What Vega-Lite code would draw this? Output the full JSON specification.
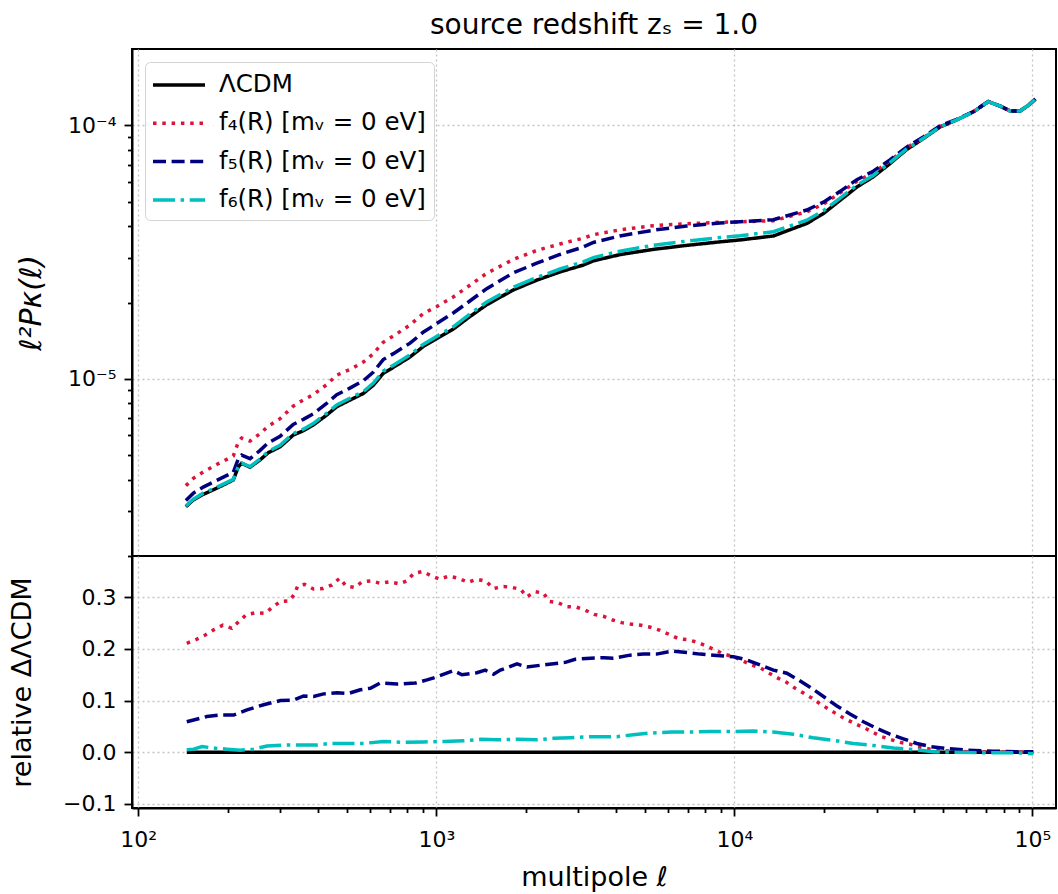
{
  "$schema": "https://vega.github.io/schema/vega-lite/v6.json",
  "background": "white",
  "padding": {"left": 7, "top": 11, "right": 2, "bottom": 2},
  "spacing": 0,
  "bounds": "flush",
  "config": {
    "font": "DejaVu Sans",
    "view": {"stroke": "black", "strokeWidth": 2},
    "axis": {"labelFontSize": 22, "titleFontSize": 27, "titleFontWeight": "normal", "labelColor": "black", "titleColor": "black", "tickColor": "black", "domainColor": "black", "domainWidth": 2, "tickWidth": 1.8, "gridColor": "#c4c4c4", "gridDash": [2, 3], "gridWidth": 1.3, "labelOverlap": false, "labelFlush": false, "labelFont": "DejaVu Sans", "titleFont": "DejaVu Sans"},
    "title": {"fontSize": 28, "fontWeight": "normal", "color": "black", "offset": 9, "anchor": "middle", "font": "DejaVu Sans"},
    "legend": {"labelFont": "DejaVu Sans"}
  },
  "datasets": {
    "top": [
      {"l": 144.5, "lcdm": 3.13e-6, "f4": 3.79e-6, "f5": 3.31e-6, "f6": 3.15e-6},
      {"l": 153.1, "lcdm": 3.33e-6, "f4": 4.05e-6, "f5": 3.54e-6, "f6": 3.35e-6},
      {"l": 165.2, "lcdm": 3.50e-6, "f4": 4.29e-6, "f5": 3.74e-6, "f6": 3.54e-6},
      {"l": 183.2, "lcdm": 3.70e-6, "f4": 4.59e-6, "f5": 3.97e-6, "f6": 3.73e-6},
      {"l": 208.4, "lcdm": 3.99e-6, "f4": 4.96e-6, "f5": 4.28e-6, "f6": 4.01e-6},
      {"l": 216.8, "lcdm": 4.50e-6, "f4": 5.64e-6, "f5": 4.84e-6, "f6": 4.52e-6},
      {"l": 222.3, "lcdm": 4.64e-6, "f4": 5.84e-6, "f5": 5.00e-6, "f6": 4.66e-6},
      {"l": 237.1, "lcdm": 4.48e-6, "f4": 5.68e-6, "f5": 4.84e-6, "f6": 4.50e-6},
      {"l": 255.9, "lcdm": 4.78e-6, "f4": 6.07e-6, "f5": 5.21e-6, "f6": 4.82e-6},
      {"l": 272.9, "lcdm": 5.11e-6, "f4": 6.50e-6, "f5": 5.59e-6, "f6": 5.17e-6},
      {"l": 299.2, "lcdm": 5.39e-6, "f4": 6.96e-6, "f5": 5.93e-6, "f6": 5.47e-6},
      {"l": 331.1, "lcdm": 6.00e-6, "f4": 7.80e-6, "f5": 6.61e-6, "f6": 6.08e-6},
      {"l": 358.1, "lcdm": 6.24e-6, "f4": 8.26e-6, "f5": 6.92e-6, "f6": 6.33e-6},
      {"l": 386.4, "lcdm": 6.57e-6, "f4": 8.65e-6, "f5": 7.28e-6, "f6": 6.66e-6},
      {"l": 428.5, "lcdm": 7.19e-6, "f4": 9.48e-6, "f5": 8.00e-6, "f6": 7.31e-6},
      {"l": 463.4, "lcdm": 7.76e-6, "f4": 10.34e-6, "f5": 8.65e-6, "f6": 7.89e-6},
      {"l": 512.9, "lcdm": 8.24e-6, "f4": 10.88e-6, "f5": 9.19e-6, "f6": 8.38e-6},
      {"l": 568.9, "lcdm": 8.75e-6, "f4": 11.64e-6, "f5": 9.82e-6, "f6": 8.90e-6},
      {"l": 615.2, "lcdm": 9.44e-6, "f4": 12.57e-6, "f5": 10.64e-6, "f6": 9.62e-6},
      {"l": 663.7, "lcdm": 10.5e-6, "f4": 13.94e-6, "f5": 11.91e-6, "f6": 10.72e-6},
      {"l": 717.8, "lcdm": 11.1e-6, "f4": 14.75e-6, "f5": 12.57e-6, "f6": 11.32e-6},
      {"l": 816.6, "lcdm": 12.2e-6, "f4": 16.31e-6, "f5": 13.82e-6, "f6": 12.43e-6},
      {"l": 903.6, "lcdm": 13.4e-6, "f4": 18.08e-6, "f5": 15.26e-6, "f6": 13.67e-6},
      {"l": 1002, "lcdm": 14.4e-6, "f4": 19.25e-6, "f5": 16.50e-6, "f6": 14.70e-6},
      {"l": 1140, "lcdm": 15.7e-6, "f4": 21.02e-6, "f5": 18.18e-6, "f6": 16.03e-6},
      {"l": 1279, "lcdm": 17.4e-6, "f4": 23.13e-6, "f5": 20.05e-6, "f6": 17.80e-6},
      {"l": 1476, "lcdm": 19.6e-6, "f4": 26.07e-6, "f5": 22.68e-6, "f6": 20.09e-6},
      {"l": 1811, "lcdm": 22.4e-6, "f4": 29.55e-6, "f5": 26.16e-6, "f6": 22.96e-6},
      {"l": 2173, "lcdm": 24.5e-6, "f4": 32.10e-6, "f5": 28.59e-6, "f6": 25.09e-6},
      {"l": 2600, "lcdm": 26.4e-6, "f4": 34.03e-6, "f5": 30.94e-6, "f6": 27.11e-6},
      {"l": 3112, "lcdm": 28.1e-6, "f4": 35.86e-6, "f5": 33.10e-6, "f6": 28.91e-6},
      {"l": 3365, "lcdm": 29.2e-6, "f4": 37.03e-6, "f5": 34.51e-6, "f6": 30.08e-6},
      {"l": 4130, "lcdm": 30.9e-6, "f4": 38.69e-6, "f5": 36.62e-6, "f6": 31.86e-6},
      {"l": 5346, "lcdm": 32.4e-6, "f4": 40.18e-6, "f5": 38.56e-6, "f6": 33.63e-6},
      {"l": 6918, "lcdm": 33.6e-6, "f4": 40.92e-6, "f5": 40.08e-6, "f6": 34.91e-6},
      {"l": 8954, "lcdm": 34.7e-6, "f4": 41.43e-6, "f5": 41.19e-6, "f6": 36.09e-6},
      {"l": 10447, "lcdm": 35.3e-6, "f4": 41.62e-6, "f5": 41.69e-6, "f6": 36.71e-6},
      {"l": 13521, "lcdm": 36.6e-6, "f4": 42.05e-6, "f5": 42.42e-6, "f6": 38.03e-6},
      {"l": 17498, "lcdm": 41.0e-6, "f4": 45.55e-6, "f5": 46.33e-6, "f6": 42.23e-6},
      {"l": 19907, "lcdm": 44.9e-6, "f4": 48.94e-6, "f5": 49.75e-6, "f6": 46.02e-6},
      {"l": 22646, "lcdm": 50.6e-6, "f4": 54.14e-6, "f5": 54.90e-6, "f6": 51.66e-6},
      {"l": 25763, "lcdm": 57.1e-6, "f4": 60.18e-6, "f5": 61.04e-6, "f6": 58.01e-6},
      {"l": 29242, "lcdm": 62.6e-6, "f4": 64.98e-6, "f5": 65.86e-6, "f6": 63.41e-6},
      {"l": 33266, "lcdm": 70.6e-6, "f4": 72.37e-6, "f5": 73.07e-6, "f6": 71.24e-6},
      {"l": 37844, "lcdm": 80.2e-6, "f4": 81.56e-6, "f5": 82.04e-6, "f6": 80.68e-6},
      {"l": 43053, "lcdm": 88.6e-6, "f4": 89.40e-6, "f5": 89.93e-6, "f6": 88.87e-6},
      {"l": 48978, "lcdm": 98.5e-6, "f4": 98.89e-6, "f5": 99.49e-6, "f6": 98.60e-6},
      {"l": 55719, "lcdm": 105.0e-6, "f4": 105.2e-6, "f5": 105.6e-6, "f6": 105.0e-6},
      {"l": 63387, "lcdm": 113.0e-6, "f4": 113.1e-6, "f5": 113.3e-6, "f6": 113.0e-6},
      {"l": 71121, "lcdm": 124.0e-6, "f4": 124.1e-6, "f5": 124.2e-6, "f6": 124.0e-6},
      {"l": 77983, "lcdm": 119.0e-6, "f4": 119.0e-6, "f5": 119.1e-6, "f6": 119.0e-6},
      {"l": 84140, "lcdm": 114.0e-6, "f4": 114.0e-6, "f5": 114.0e-6, "f6": 114.0e-6},
      {"l": 90991, "lcdm": 114.0e-6, "f4": 114.0e-6, "f5": 114.0e-6, "f6": 114.0e-6},
      {"l": 97051, "lcdm": 120.0e-6, "f4": 120.0e-6, "f5": 120.0e-6, "f6": 120.0e-6},
      {"l": 102329, "lcdm": 127.0e-6, "f4": 127.0e-6, "f5": 127.0e-6, "f6": 127.0e-6}
    ],
    "rel": [
      {"s": "ΛCDM", "l": 145.5, "d": 0},
      {"s": "ΛCDM", "l": 100693, "d": 0},
      {"s": "f4", "l": 145.5, "d": 0.211},
      {"s": "f4", "l": 157.4, "d": 0.219},
      {"s": "f4", "l": 167.9, "d": 0.227},
      {"s": "f4", "l": 179.1, "d": 0.237},
      {"s": "f4", "l": 192.3, "d": 0.246},
      {"s": "f4", "l": 206.1, "d": 0.240},
      {"s": "f4", "l": 217.3, "d": 0.253},
      {"s": "f4", "l": 230.1, "d": 0.266},
      {"s": "f4", "l": 247.2, "d": 0.270},
      {"s": "f4", "l": 266.7, "d": 0.269},
      {"s": "f4", "l": 281.2, "d": 0.280},
      {"s": "f4", "l": 299.9, "d": 0.292},
      {"s": "f4", "l": 321.4, "d": 0.293},
      {"s": "f4", "l": 333.4, "d": 0.305},
      {"s": "f4", "l": 342.8, "d": 0.322},
      {"s": "f4", "l": 361.4, "d": 0.325},
      {"s": "f4", "l": 387.3, "d": 0.316},
      {"s": "f4", "l": 416.9, "d": 0.317},
      {"s": "f4", "l": 446.7, "d": 0.324},
      {"s": "f4", "l": 474.2, "d": 0.337},
      {"s": "f4", "l": 497.7, "d": 0.322},
      {"s": "f4", "l": 532.1, "d": 0.319},
      {"s": "f4", "l": 563.6, "d": 0.330},
      {"s": "f4", "l": 605.3, "d": 0.332},
      {"s": "f4", "l": 648.6, "d": 0.327},
      {"s": "f4", "l": 696.6, "d": 0.330},
      {"s": "f4", "l": 753.4, "d": 0.326},
      {"s": "f4", "l": 798.0, "d": 0.332},
      {"s": "f4", "l": 839.5, "d": 0.346},
      {"s": "f4", "l": 899.5, "d": 0.350},
      {"s": "f4", "l": 966.1, "d": 0.341},
      {"s": "f4", "l": 1026, "d": 0.335},
      {"s": "f4", "l": 1099, "d": 0.341},
      {"s": "f4", "l": 1189, "d": 0.337},
      {"s": "f4", "l": 1276, "d": 0.329},
      {"s": "f4", "l": 1368, "d": 0.335},
      {"s": "f4", "l": 1469, "d": 0.331},
      {"s": "f4", "l": 1556, "d": 0.317},
      {"s": "f4", "l": 1683, "d": 0.321},
      {"s": "f4", "l": 1803, "d": 0.319},
      {"s": "f4", "l": 1923, "d": 0.315},
      {"s": "f4", "l": 2014, "d": 0.301},
      {"s": "f4", "l": 2148, "d": 0.311},
      {"s": "f4", "l": 2291, "d": 0.308},
      {"s": "f4", "l": 2393, "d": 0.292},
      {"s": "f4", "l": 2553, "d": 0.290},
      {"s": "f4", "l": 2742, "d": 0.282},
      {"s": "f4", "l": 2951, "d": 0.281},
      {"s": "f4", "l": 3162, "d": 0.275},
      {"s": "f4", "l": 3388, "d": 0.267},
      {"s": "f4", "l": 3648, "d": 0.263},
      {"s": "f4", "l": 3908, "d": 0.256},
      {"s": "f4", "l": 4188, "d": 0.251},
      {"s": "f4", "l": 4519, "d": 0.248},
      {"s": "f4", "l": 4864, "d": 0.246},
      {"s": "f4", "l": 5236, "d": 0.242},
      {"s": "f4", "l": 5636, "d": 0.236},
      {"s": "f4", "l": 6053, "d": 0.228},
      {"s": "f4", "l": 6486, "d": 0.220},
      {"s": "f4", "l": 6950, "d": 0.218},
      {"s": "f4", "l": 7516, "d": 0.213},
      {"s": "f4", "l": 8035, "d": 0.206},
      {"s": "f4", "l": 8610, "d": 0.198},
      {"s": "f4", "l": 9226, "d": 0.190},
      {"s": "f4", "l": 9931, "d": 0.185},
      {"s": "f4", "l": 10666, "d": 0.177},
      {"s": "f4", "l": 11429, "d": 0.169},
      {"s": "f4", "l": 12246, "d": 0.163},
      {"s": "f4", "l": 13092, "d": 0.153},
      {"s": "f4", "l": 14060, "d": 0.143},
      {"s": "f4", "l": 15000, "d": 0.135},
      {"s": "f4", "l": 15996, "d": 0.124},
      {"s": "f4", "l": 17140, "d": 0.114},
      {"s": "f4", "l": 18197, "d": 0.105},
      {"s": "f4", "l": 19364, "d": 0.094},
      {"s": "f4", "l": 20654, "d": 0.084},
      {"s": "f4", "l": 22029, "d": 0.074},
      {"s": "f4", "l": 23496, "d": 0.065},
      {"s": "f4", "l": 25235, "d": 0.056},
      {"s": "f4", "l": 27102, "d": 0.048},
      {"s": "f4", "l": 28907, "d": 0.040},
      {"s": "f4", "l": 31189, "d": 0.030},
      {"s": "f4", "l": 33729, "d": 0.024},
      {"s": "f4", "l": 35975, "d": 0.019},
      {"s": "f4", "l": 38637, "d": 0.016},
      {"s": "f4", "l": 41976, "d": 0.010},
      {"s": "f4", "l": 45394, "d": 0.006},
      {"s": "f4", "l": 50234, "d": 0.003},
      {"s": "f4", "l": 60256, "d": 0.001},
      {"s": "f4", "l": 77983, "d": 0.0},
      {"s": "f4", "l": 100693, "d": 0.0},
      {"s": "f5", "l": 145.5, "d": 0.059},
      {"s": "f5", "l": 169.8, "d": 0.069},
      {"s": "f5", "l": 188.4, "d": 0.072},
      {"s": "f5", "l": 208.9, "d": 0.072},
      {"s": "f5", "l": 231.7, "d": 0.082},
      {"s": "f5", "l": 263.6, "d": 0.092},
      {"s": "f5", "l": 299.9, "d": 0.100},
      {"s": "f5", "l": 331.9, "d": 0.101},
      {"s": "f5", "l": 358.9, "d": 0.109},
      {"s": "f5", "l": 387.3, "d": 0.108},
      {"s": "f5", "l": 418.8, "d": 0.113},
      {"s": "f5", "l": 464.5, "d": 0.115},
      {"s": "f5", "l": 508.2, "d": 0.114},
      {"s": "f5", "l": 555.9, "d": 0.121},
      {"s": "f5", "l": 601.2, "d": 0.124},
      {"s": "f5", "l": 648.6, "d": 0.134},
      {"s": "f5", "l": 737.9, "d": 0.132},
      {"s": "f5", "l": 851.1, "d": 0.134},
      {"s": "f5", "l": 931.1, "d": 0.140},
      {"s": "f5", "l": 1005, "d": 0.146},
      {"s": "f5", "l": 1143, "d": 0.158},
      {"s": "f5", "l": 1219, "d": 0.150},
      {"s": "f5", "l": 1368, "d": 0.154},
      {"s": "f5", "l": 1459, "d": 0.159},
      {"s": "f5", "l": 1556, "d": 0.151},
      {"s": "f5", "l": 1641, "d": 0.159},
      {"s": "f5", "l": 1866, "d": 0.171},
      {"s": "f5", "l": 2014, "d": 0.165},
      {"s": "f5", "l": 2350, "d": 0.170},
      {"s": "f5", "l": 2710, "d": 0.174},
      {"s": "f5", "l": 2924, "d": 0.180},
      {"s": "f5", "l": 3289, "d": 0.182},
      {"s": "f5", "l": 3648, "d": 0.183},
      {"s": "f5", "l": 3926, "d": 0.182},
      {"s": "f5", "l": 4467, "d": 0.188},
      {"s": "f5", "l": 4955, "d": 0.190},
      {"s": "f5", "l": 5483, "d": 0.190},
      {"s": "f5", "l": 6166, "d": 0.196},
      {"s": "f5", "l": 6918, "d": 0.193},
      {"s": "f5", "l": 7674, "d": 0.190},
      {"s": "f5", "l": 8511, "d": 0.188},
      {"s": "f5", "l": 9311, "d": 0.186},
      {"s": "f5", "l": 9931, "d": 0.185},
      {"s": "f5", "l": 10990, "d": 0.179},
      {"s": "f5", "l": 12190, "d": 0.169},
      {"s": "f5", "l": 13521, "d": 0.159},
      {"s": "f5", "l": 15000, "d": 0.153},
      {"s": "f5", "l": 16181, "d": 0.142},
      {"s": "f5", "l": 17947, "d": 0.126},
      {"s": "f5", "l": 19907, "d": 0.108},
      {"s": "f5", "l": 22029, "d": 0.090},
      {"s": "f5", "l": 24434, "d": 0.074},
      {"s": "f5", "l": 27102, "d": 0.059},
      {"s": "f5", "l": 30061, "d": 0.046},
      {"s": "f5", "l": 33266, "d": 0.035},
      {"s": "f5", "l": 36898, "d": 0.026},
      {"s": "f5", "l": 40926, "d": 0.017},
      {"s": "f5", "l": 45394, "d": 0.011},
      {"s": "f5", "l": 51642, "d": 0.007},
      {"s": "f5", "l": 60256, "d": 0.004},
      {"s": "f5", "l": 73961, "d": 0.002},
      {"s": "f5", "l": 88512, "d": 0.001},
      {"s": "f5", "l": 100693, "d": 0.001},
      {"s": "f6", "l": 145.5, "d": 0.005},
      {"s": "f6", "l": 153.5, "d": 0.006},
      {"s": "f6", "l": 163.7, "d": 0.011},
      {"s": "f6", "l": 179.1, "d": 0.008},
      {"s": "f6", "l": 198.6, "d": 0.006},
      {"s": "f6", "l": 219.8, "d": 0.004},
      {"s": "f6", "l": 243.8, "d": 0.006},
      {"s": "f6", "l": 270.4, "d": 0.012},
      {"s": "f6", "l": 307.6, "d": 0.014},
      {"s": "f6", "l": 358.9, "d": 0.014},
      {"s": "f6", "l": 398.1, "d": 0.014},
      {"s": "f6", "l": 440.6, "d": 0.017},
      {"s": "f6", "l": 501.2, "d": 0.017},
      {"s": "f6", "l": 570.2, "d": 0.017},
      {"s": "f6", "l": 665.3, "d": 0.021},
      {"s": "f6", "l": 776.2, "d": 0.019},
      {"s": "f6", "l": 905.7, "d": 0.020},
      {"s": "f6", "l": 1059, "d": 0.021},
      {"s": "f6", "l": 1236, "d": 0.022},
      {"s": "f6", "l": 1406, "d": 0.025},
      {"s": "f6", "l": 1600, "d": 0.024},
      {"s": "f6", "l": 1866, "d": 0.025},
      {"s": "f6", "l": 2178, "d": 0.024},
      {"s": "f6", "l": 2477, "d": 0.027},
      {"s": "f6", "l": 2818, "d": 0.028},
      {"s": "f6", "l": 3289, "d": 0.030},
      {"s": "f6", "l": 4036, "d": 0.030},
      {"s": "f6", "l": 4581, "d": 0.034},
      {"s": "f6", "l": 5212, "d": 0.037},
      {"s": "f6", "l": 6166, "d": 0.039},
      {"s": "f6", "l": 7096, "d": 0.039},
      {"s": "f6", "l": 8279, "d": 0.040},
      {"s": "f6", "l": 9931, "d": 0.040},
      {"s": "f6", "l": 11588, "d": 0.041},
      {"s": "f6", "l": 13521, "d": 0.039},
      {"s": "f6", "l": 15776, "d": 0.035},
      {"s": "f6", "l": 18408, "d": 0.028},
      {"s": "f6", "l": 21478, "d": 0.023},
      {"s": "f6", "l": 25061, "d": 0.017},
      {"s": "f6", "l": 29242, "d": 0.013},
      {"s": "f6", "l": 34198, "d": 0.008},
      {"s": "f6", "l": 39902, "d": 0.005},
      {"s": "f6", "l": 46559, "d": 0.001},
      {"s": "f6", "l": 54325, "d": 0.0},
      {"s": "f6", "l": 68549, "d": -0.001},
      {"s": "f6", "l": 88512, "d": -0.001},
      {"s": "f6", "l": 100693, "d": -0.003}
    ]
  },
  "resolve": {"scale": {"x": "independent", "y": "independent", "color": "independent", "strokeDash": "independent"}},
  "vconcat": [
    {
      "width": 924,
      "height": 507,
      "title": {"text": "source redshift zₛ = 1.0"},
      "data": {"name": "top"},
      "transform": [{"fold": ["lcdm", "f4", "f5", "f6"], "as": ["k", "p"]}, {"lookup": "k", "from": {"data": {"values": [{"k": "lcdm", "s": "ΛCDM"}, {"k": "f4", "s": "f4"}, {"k": "f5", "s": "f5"}, {"k": "f6", "s": "f6"}]}, "key": "k", "fields": ["s"]}}],
      "mark": {"type": "line", "strokeWidth": 3.5, "clip": true},
      "encoding": {
        "x": {"field": "l", "type": "quantitative", "scale": {"type": "log", "domain": [95.3, 120000], "nice": false},
          "axis": {"values": [100, 1000, 10000, 100000], "labels": false, "ticks": false, "domain": false, "grid": true, "title": null}},
        "y": {"field": "p", "type": "quantitative", "scale": {"type": "log", "domain": [2e-6, 2e-4], "nice": false},
          "axis": {
            "values": [2e-6, 3e-6, 4e-6, 5e-6, 6e-6, 7e-6, 8e-6, 9e-6, 1e-5, 2e-5, 3e-5, 4e-5, 5e-5, 6e-5, 7e-5, 8e-5, 9e-5, 1e-4],
            "labelExpr": "datum.value == 0.0001 ? '10⁻⁴' : datum.value == 0.00001 ? '10⁻⁵' : ''",
            "tickSize": {"condition": {"test": "indexof([0.00001, 0.0001], datum.value) >= 0", "value": 8}, "value": 4.5},
            "gridOpacity": {"condition": {"test": "indexof([0.00001, 0.0001], datum.value) >= 0", "value": 1}, "value": 0},
            "grid": true,
            "labelPadding": 8,
            "title": "ℓ²Pκ(ℓ)",
            "titleFontSize": 30,
            "titleFontStyle": "italic",
            "titlePadding": 21
          }},
        "color": {"field": "s", "type": "nominal",
          "scale": {"domain": ["ΛCDM", "f4", "f5", "f6"], "range": ["#000000", "#dc143c", "#00007f", "#00bfbf"]},
          "legend": {"orient": "top-left", "offset": 13, "title": null, "labelFontSize": 24.5, "labelColor": "black",
            "labelExpr": "datum.label == 'f4' ? 'f₄(R) [mᵥ = 0 eV]' : datum.label == 'f5' ? 'f₅(R) [mᵥ = 0 eV]' : datum.label == 'f6' ? 'f₆(R) [mᵥ = 0 eV]' : datum.label",
            "symbolType": "M-2,0L2,0", "symbolSize": 676, "symbolStrokeWidth": 3.5, "symbolOffset": 11, "padding": 8, "rowPadding": 11.3, "labelOffset": 25, "labelLimit": 500,
            "fillColor": "rgba(255,255,255,0.85)", "strokeColor": "#d4d4d4", "cornerRadius": 5}},
        "strokeDash": {"field": "s", "type": "nominal",
          "scale": {"domain": ["ΛCDM", "f4", "f5", "f6"], "range": [[1, 0], [3.5, 5.8], [13, 5.6], [22, 5.6, 3.5, 5.6]]},
          "legend": {"orient": "top-left", "offset": 13, "title": null, "labelFontSize": 24.5, "labelColor": "black",
            "labelExpr": "datum.label == 'f4' ? 'f₄(R) [mᵥ = 0 eV]' : datum.label == 'f5' ? 'f₅(R) [mᵥ = 0 eV]' : datum.label == 'f6' ? 'f₆(R) [mᵥ = 0 eV]' : datum.label",
            "symbolType": "M-2,0L2,0", "symbolSize": 676, "symbolStrokeWidth": 3.5, "symbolOffset": 11, "padding": 8, "rowPadding": 11.3, "labelOffset": 25, "labelLimit": 500,
            "fillColor": "rgba(255,255,255,0.85)", "strokeColor": "#d4d4d4", "cornerRadius": 5}}
      }
    },
    {
      "width": 924,
      "height": 252,
      "data": {"name": "rel"},
      "mark": {"type": "line", "strokeWidth": 3.5, "clip": true},
      "encoding": {
        "x": {"field": "l", "type": "quantitative", "scale": {"type": "log", "domain": [95.3, 120000], "nice": false},
          "axis": {
            "values": [100, 200, 300, 400, 500, 600, 700, 800, 900, 1000, 2000, 3000, 4000, 5000, 6000, 7000, 8000, 9000, 10000, 20000, 30000, 40000, 50000, 60000, 70000, 80000, 90000, 100000],
            "labelExpr": "datum.value == 100 ? '10²' : datum.value == 1000 ? '10³' : datum.value == 10000 ? '10⁴' : datum.value == 100000 ? '10⁵' : ''",
            "tickSize": {"condition": {"test": "indexof([100, 1000, 10000, 100000], datum.value) >= 0", "value": 8}, "value": 4.5},
            "gridOpacity": {"condition": {"test": "indexof([100, 1000, 10000, 100000], datum.value) >= 0", "value": 1}, "value": 0},
            "grid": true,
            "labelPadding": 13,
            "title": "multipole ℓ",
            "titlePadding": 14
          }},
        "y": {"field": "d", "type": "quantitative", "scale": {"domain": [-0.108, 0.38], "nice": false, "zero": false},
          "axis": {
            "values": [-0.1, 0, 0.1, 0.2, 0.3],
            "labelExpr": "datum.value < 0 ? '−' + format(-datum.value, '.1f') : format(datum.value, '.1f')",
            "tickSize": 8,
            "grid": true,
            "labelPadding": 8,
            "title": "relative ΔΛCDM",
            "titlePadding": 26
          }},
        "color": {"field": "s", "type": "nominal",
          "scale": {"domain": ["ΛCDM", "f4", "f5", "f6"], "range": ["#000000", "#dc143c", "#00007f", "#00bfbf"]},
          "legend": null},
        "strokeDash": {"field": "s", "type": "nominal",
          "scale": {"domain": ["ΛCDM", "f4", "f5", "f6"], "range": [[1, 0], [3.5, 5.8], [13, 5.6], [22, 5.6, 3.5, 5.6]]},
          "legend": null}
      }
    }
  ]
}
